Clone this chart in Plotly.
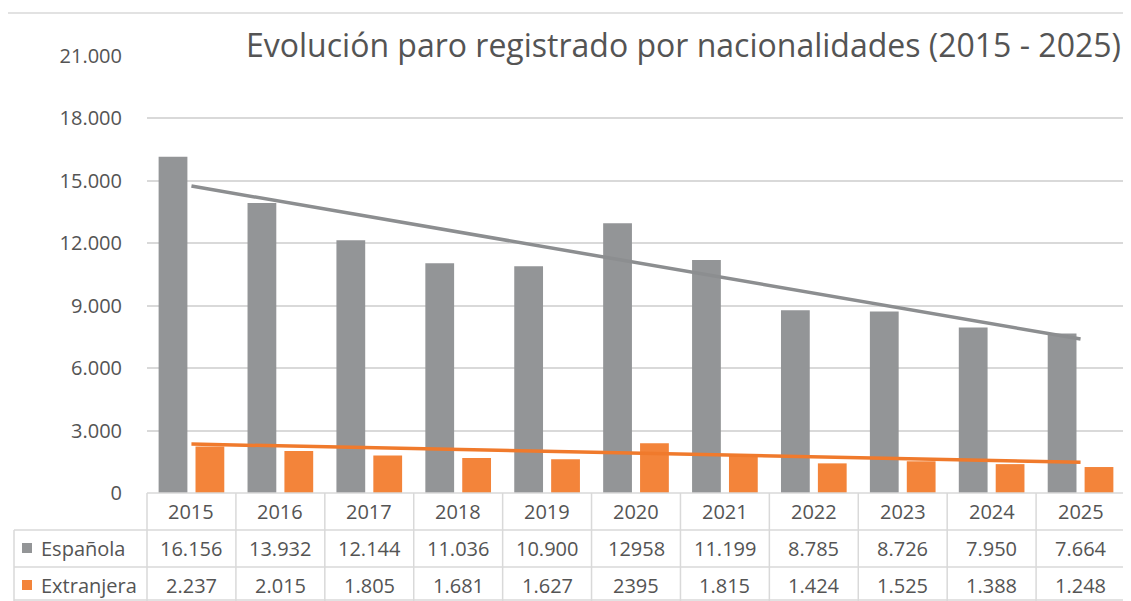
import plotly.graph_objects as go

years = ["2015", "2016", "2017", "2018", "2019", "2020", "2021", "2022", "2023", "2024", "2025"]
espanola = [16156, 13932, 12144, 11036, 10900, 12958, 11199, 8785, 8726, 7950, 7664]
extranjera = [2237, 2015, 1805, 1681, 1627, 2395, 1815, 1424, 1525, 1388, 1248]
espanola_labels = ["16.156", "13.932", "12.144", "11.036", "10.900", "12958", "11.199", "8.785", "8.726", "7.950", "7.664"]
extranjera_labels = ["2.237", "2.015", "1.805", "1.681", "1.627", "2395", "1.815", "1.424", "1.525", "1.388", "1.248"]
# linear trendline end values (first year, last year)
trend_espanola = [14750, 7400]
trend_extranjera = [2350, 1480]
series_names = ["Española", "Extranjera"]
title_text = "Evolución paro registrado por nacionalidades (2015 - 2025)"
y_ticks = [0, 3000, 6000, 9000, 12000, 15000, 18000, 21000]

GRAY = "#939597"
ORANGE = "#f3843a"
GRAY_TREND = "#8c8e90"
ORANGE_TREND = "#f07a2c"
TXT = "#545454"
LINE = "#d9d9d9"
FONT = "Open Sans"

OFF = 8  # browser body margin
W, H = 1131 - OFF, 601 - OFF
ML, MR, MT, MB = 147 - OFF, 6, 56 - OFF, 108
PW = W - ML - MR
PH = H - MT - MB


def px_x(px):
    return (px - OFF - ML) / PW


def px_y(py):
    return (H - MB - (py - OFF)) / PH


n = len(years)
idx = list(range(n))

fig = go.Figure()
fig.add_trace(go.Bar(x=idx, y=espanola, name=series_names[0], marker=dict(color=GRAY, line=dict(width=0))))
fig.add_trace(go.Bar(x=idx, y=extranjera, name=series_names[1], marker=dict(color=ORANGE, line=dict(width=0))))
fig.add_trace(go.Scatter(x=[idx[0], idx[-1]], y=trend_espanola, mode="lines",
                         line=dict(color=GRAY_TREND, width=3.5), showlegend=False))
fig.add_trace(go.Scatter(x=[idx[0], idx[-1]], y=trend_extranjera, mode="lines",
                         line=dict(color=ORANGE_TREND, width=3.5), showlegend=False))

shapes = []
lw = 1.5
# top border line
shapes.append(dict(type="line", xref="paper", yref="paper", x0=px_x(8), x1=px_x(1131), y0=px_y(13), y1=px_y(13),
                   line=dict(color=LINE, width=lw)))
# horizontal table lines
shapes.append(dict(type="line", xref="paper", yref="paper", x0=0, x1=1, y0=px_y(493), y1=px_y(493),
                   line=dict(color=LINE, width=lw)))
for py in [530, 567, 600]:
    shapes.append(dict(type="line", xref="paper", yref="paper", x0=px_x(14), x1=1, y0=px_y(py), y1=px_y(py),
                       line=dict(color=LINE, width=lw)))
# vertical table lines
for k in range(n + 1):
    shapes.append(dict(type="line", xref="paper", yref="paper", x0=k / n, x1=k / n, y0=px_y(493), y1=px_y(601),
                       line=dict(color=LINE, width=lw)))
shapes.append(dict(type="line", xref="paper", yref="paper", x0=px_x(14), x1=px_x(14), y0=px_y(530), y1=px_y(601),
                   line=dict(color=LINE, width=lw)))
# legend keys
for py, col in [(548, GRAY), (585, ORANGE)]:
    shapes.append(dict(type="rect", xref="paper", yref="paper", x0=px_x(22), x1=px_x(32),
                       y0=px_y(py - 5), y1=px_y(py + 5), fillcolor=col, line=dict(width=0)))

annotations = []
annotations.append(dict(text=title_text, xref="paper", yref="paper", x=px_x(1123), y=px_y(45), xanchor="right",
                        yanchor="middle", showarrow=False, font=dict(family=FONT, size=32, color=TXT)))
cell_font = dict(family=FONT, size=20, color=TXT)
for i, yr in enumerate(years):
    x_mid = (i + 0.5) / n
    annotations.append(dict(text=yr, xref="paper", yref="paper", x=x_mid, y=px_y(511), showarrow=False,
                            font=cell_font, xanchor="center", yanchor="middle"))
    annotations.append(dict(text=espanola_labels[i], xref="paper", yref="paper", x=x_mid, y=px_y(548),
                            showarrow=False, font=cell_font, xanchor="center", yanchor="middle"))
    annotations.append(dict(text=extranjera_labels[i], xref="paper", yref="paper", x=x_mid, y=px_y(585),
                            showarrow=False, font=cell_font, xanchor="center", yanchor="middle"))
for name, py in zip(series_names, [548, 585]):
    annotations.append(dict(text=name, xref="paper", yref="paper", x=px_x(39), y=px_y(py), xanchor="left",
                            yanchor="middle", showarrow=False, font=cell_font))

fig.update_layout(
    width=W, height=H,
    margin=dict(l=ML, r=MR, t=MT, b=MB),
    paper_bgcolor="white", plot_bgcolor="white",
    barmode="group", bargap=0.17, bargroupgap=0.22,
    showlegend=False,
    separators=",.",
    shapes=shapes,
    annotations=annotations,
    font=dict(family=FONT, color=TXT),
)
fig.update_xaxes(type="linear", showticklabels=False, showgrid=False, zeroline=False, showline=False,
                 range=[-0.5, n - 0.5])
fig.update_yaxes(range=[0, 21000], tickvals=y_ticks, tickformat=",d", showgrid=True, gridcolor=LINE,
                 gridwidth=lw, zeroline=False, showline=False, ticks="", ticklabelstandoff=24,
                 tickfont=dict(family=FONT, size=20, color=TXT))

fig.write_html("out.html")
